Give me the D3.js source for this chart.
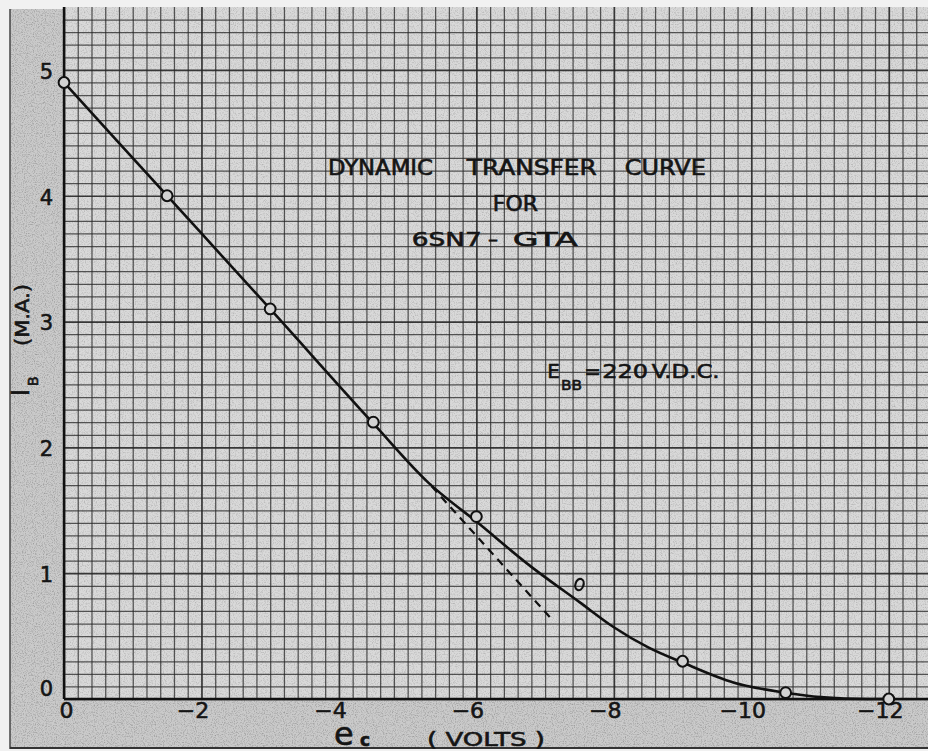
<!DOCTYPE html>
<html>
<head>
<meta charset="utf-8">
<script src="https://cdn.jsdelivr.net/npm/d3@7/dist/d3.min.js"></script>
<style>
  body { margin: 0; background: #f1f1f1; }
  text { font-family: "DejaVu Sans", sans-serif; fill: #151515; stroke: #151515; stroke-width: 0.6; }
</style>
</head>
<body>
<div id="chart"></div>
<script>
var width = 928,
    height = 751;

// measured points, grid volts vs plate current (mA)
var gridVolts = [0, -1.5, -3, -4.5, -6, -9, -10.5, -12];
var plateMA = [4.9, 4.0, 3.1, 2.2, 1.45, 0.3, 0.05, 0.0];

// the odd point drawn off the curve
var oddVolts = [-7.5];
var oddMA = [0.91];

// hand drawn transfer curve
var curveVolts = [0, -1.5, -3, -4.5, -5.3, -6, -6.8, -7.5, -8, -8.5, -9, -9.75, -10.5, -11, -11.7, -12];
var curveMA = [4.9, 4.0, 3.1, 2.19, 1.72, 1.41, 1.05, 0.77, 0.57, 0.41, 0.29, 0.13, 0.05, 0.015, 0.0, 0.0];

// dashed straight-line extension
var dashVolts = [-5.35, -7.07];
var dashMA = [1.69, 0.65];

var xTicks = [0, -2, -4, -6, -8, -10, -12];
var yTicks = [0, 1, 2, 3, 4, 5];

var x = d3.scaleLinear().domain([0, -12.6]).range([64, 930]);
var y = d3.scaleLinear().domain([0, 5.5]).range([699, 7]);

var svg = d3.select('#chart').append('svg')
    .attr('width', width)
    .attr('height', height);

var defs = svg.append('defs');
var grain = defs.append('filter').attr('id', 'grain')
    .attr('x', 0).attr('y', 0).attr('width', 1).attr('height', 1);
grain.append('feTurbulence')
    .attr('type', 'fractalNoise')
    .attr('baseFrequency', 0.9)
    .attr('numOctaves', 2)
    .attr('seed', 4);
grain.append('feColorMatrix')
    .attr('type', 'matrix')
    .attr('values', '0 0 0 0 0.1  0 0 0 0 0.1  0 0 0 0 0.1  2.2 0 0 0 -1.0');

// paper margin
svg.append('rect')
    .attr('x', 10).attr('y', 9)
    .attr('width', width - 10).attr('height', 740)
    .attr('fill', '#cacaca');
svg.append('rect')
    .attr('x', 10).attr('y', 9)
    .attr('width', width - 10).attr('height', 740)
    .attr('filter', 'url(#grain)')
    .attr('opacity', 0.45);
svg.append('line')
    .attr('x1', 10).attr('x2', 10).attr('y1', 9).attr('y2', 749)
    .attr('stroke', '#444').attr('stroke-width', 1.5);
svg.append('line')
    .attr('x1', 10).attr('x2', width).attr('y1', 748).attr('y2', 748)
    .attr('stroke', '#333').attr('stroke-width', 2);

// graph paper
svg.append('rect')
    .attr('x', x(0)).attr('y', y(5.5))
    .attr('width', width - x(0)).attr('height', y(0) - y(5.5))
    .attr('fill', '#d9d9d9');
svg.append('rect')
    .attr('x', x(0)).attr('y', y(5.5))
    .attr('width', width - x(0)).attr('height', y(0) - y(5.5))
    .attr('filter', 'url(#grain)')
    .attr('opacity', 0.3);

var vLines = d3.range(0, 64).map(function(k) { return -k / 5; });
var hLines = d3.range(0, 55).map(function(k) { return k / 10; });

svg.append('g')
    .attr('class', 'vgrid')
    .attr('transform', 'translate(0,' + y(0) + ')')
    .call(d3.axisBottom(x).tickValues(vLines).tickSize(-(y(0) - y(5.5))).tickFormat(''))
    .call(function(g) { g.select('.domain').remove(); })
    .selectAll('line')
    .attr('stroke', '#262626')
    .attr('stroke-opacity', function(d, i) { return i % 10 === 0 ? 0.9 : 0.75; })
    .attr('stroke-width', function(d, i) { return i % 10 === 0 ? 1.7 : 1.25; });

svg.append('g')
    .attr('class', 'hgrid')
    .attr('transform', 'translate(' + x(0) + ',0)')
    .call(d3.axisLeft(y).tickValues(hLines).tickSize(-(width - x(0))).tickFormat(''))
    .call(function(g) { g.select('.domain').remove(); })
    .selectAll('line')
    .attr('stroke', '#262626')
    .attr('stroke-opacity', function(d, i) { return i % 10 === 0 ? 0.9 : 0.75; })
    .attr('stroke-width', function(d, i) { return i % 10 === 0 ? 1.7 : 1.25; });

// plot border
svg.append('line')
    .attr('x1', x(0)).attr('x2', x(0)).attr('y1', y(5.5)).attr('y2', y(0))
    .attr('stroke', '#111').attr('stroke-width', 2.4);
svg.append('line')
    .attr('x1', x(0)).attr('x2', width).attr('y1', y(0)).attr('y2', y(0))
    .attr('stroke', '#111').attr('stroke-width', 2.4);

// axes labels
var xAxis = svg.append('g')
    .attr('transform', 'translate(0,' + y(0) + ')')
    .call(d3.axisBottom(x).tickValues(xTicks).tickSize(0).tickPadding(3)
        .tickFormat(function(d) { return d === 0 ? '0' : '\u2212' + Math.abs(d); }));
xAxis.select('.domain').remove();
xAxis.selectAll('text')
    .attr('font-size', 22)
    .attr('dx', function(d) { return d === 0 ? 2 : -9; })
    .style('font-family', '"DejaVu Sans", sans-serif')
    .attr('fill', '#151515');

var yAxis = svg.append('g')
    .attr('transform', 'translate(' + x(0) + ',0)')
    .call(d3.axisLeft(y).tickValues(yTicks).tickSize(0).tickPadding(11)
        .tickFormat(d3.format('d')));
yAxis.select('.domain').remove();
yAxis.selectAll('text')
    .attr('font-size', 21)
    .attr('dy', function(d) { return d === 0 ? '-0.18em' : '0.4em'; })
    .style('font-family', '"DejaVu Sans", sans-serif')
    .attr('fill', '#151515');

// curve
var line = d3.line()
    .x(function(d) { return x(d[0]); })
    .y(function(d) { return y(d[1]); })
    .curve(d3.curveMonotoneX);

svg.append('path')
    .datum(d3.zip(curveVolts, curveMA))
    .attr('d', line)
    .attr('fill', 'none')
    .attr('stroke', '#111')
    .attr('stroke-width', 2.6);

svg.append('path')
    .datum(d3.zip(dashVolts, dashMA))
    .attr('d', d3.line().x(function(d) { return x(d[0]); }).y(function(d) { return y(d[1]); }))
    .attr('fill', 'none')
    .attr('stroke', '#111')
    .attr('stroke-width', 2.2)
    .attr('stroke-dasharray', '8,6');

svg.selectAll('.pt')
    .data(d3.zip(gridVolts, plateMA))
    .enter().append('circle')
    .attr('class', 'pt')
    .attr('cx', function(d) { return x(d[0]); })
    .attr('cy', function(d) { return y(d[1]); })
    .attr('r', 5.4)
    .attr('fill', '#d2d2d2')
    .attr('stroke', '#111')
    .attr('stroke-width', 2);

svg.selectAll('.odd')
    .data(d3.zip(oddVolts, oddMA))
    .enter().append('ellipse')
    .attr('class', 'odd')
    .attr('cx', function(d) { return x(d[0]); })
    .attr('cy', function(d) { return y(d[1]); })
    .attr('rx', 4)
    .attr('ry', 5.8)
    .attr('transform', function(d) { return 'rotate(18,' + x(d[0]) + ',' + y(d[1]) + ')'; })
    .attr('fill', 'none')
    .attr('stroke', '#111')
    .attr('stroke-width', 2.2);

// title lettering
var titleWords = ['DYNAMIC', 'TRANSFER', 'CURVE'];
var titleAt = [-3.84, -5.86, -8.16];
var titleLen = [105, 130, 81];
svg.selectAll('.tw')
    .data(titleWords)
    .enter().append('text')
    .attr('class', 'tw')
    .attr('x', function(d, i) { return x(titleAt[i]); })
    .attr('y', y(4.165))
    .attr('font-size', 20.5)
    .attr('textLength', function(d, i) { return titleLen[i]; })
    .attr('lengthAdjust', 'spacingAndGlyphs')
    .text(function(d) { return d; });

svg.append('text')
    .attr('x', x(-6.24)).attr('y', y(3.88))
    .attr('font-size', 20.5)
    .attr('textLength', 45).attr('lengthAdjust', 'spacingAndGlyphs')
    .text('FOR');

svg.append('text')
    .attr('x', x(-5.06)).attr('y', y(3.6))
    .attr('font-size', 20)
    .attr('textLength', 70).attr('lengthAdjust', 'spacingAndGlyphs')
    .text('6SN7');
svg.append('text')
    .attr('x', x(-6.17)).attr('y', y(3.6))
    .attr('font-size', 20)
    .text('\u2013');
svg.append('text')
    .attr('x', x(-6.53)).attr('y', y(3.6))
    .attr('font-size', 20)
    .attr('textLength', 65).attr('lengthAdjust', 'spacingAndGlyphs')
    .text('GTA');

// supply note
svg.append('text')
    .attr('x', x(-7.03)).attr('y', y(2.55))
    .attr('font-size', 20)
    .text('E');
svg.append('text')
    .attr('x', x(-7.23)).attr('y', y(2.455))
    .attr('font-size', 14.5)
    .attr('textLength', 21).attr('lengthAdjust', 'spacingAndGlyphs')
    .text('BB');
svg.append('text')
    .attr('x', x(-7.57)).attr('y', y(2.55))
    .attr('font-size', 20)
    .text('=');
svg.append('text')
    .attr('x', x(-7.83)).attr('y', y(2.55))
    .attr('font-size', 20)
    .attr('textLength', 46).attr('lengthAdjust', 'spacingAndGlyphs')
    .text('220');
svg.append('text')
    .attr('x', x(-8.55)).attr('y', y(2.55))
    .attr('font-size', 19)
    .attr('textLength', 68).attr('lengthAdjust', 'spacingAndGlyphs')
    .text('V.D.C.');

// axis titles
svg.append('text')
    .attr('x', 334).attr('y', 745)
    .attr('font-size', 32)
    .text('e');
svg.append('text')
    .attr('x', 360).attr('y', 746)
    .attr('font-size', 17)
    .attr('font-weight', 'bold')
    .text('c');
svg.append('text')
    .attr('x', 427).attr('y', 746)
    .attr('font-size', 20)
    .attr('textLength', 118).attr('lengthAdjust', 'spacingAndGlyphs')
    .text('( VOLTS )');

var ytitle = svg.append('g')
    .attr('transform', 'translate(29,396) rotate(-90)');
ytitle.append('text')
    .attr('x', 0).attr('y', 0)
    .attr('font-size', 24)
    .text('I');
ytitle.append('text')
    .attr('x', 10).attr('y', 9)
    .attr('font-size', 14)
    .text('B');
ytitle.append('text')
    .attr('x', 50).attr('y', 0)
    .attr('font-size', 20)
    .attr('textLength', 62).attr('lengthAdjust', 'spacingAndGlyphs')
    .text('(M.A.)');
</script>
</body>
</html>
